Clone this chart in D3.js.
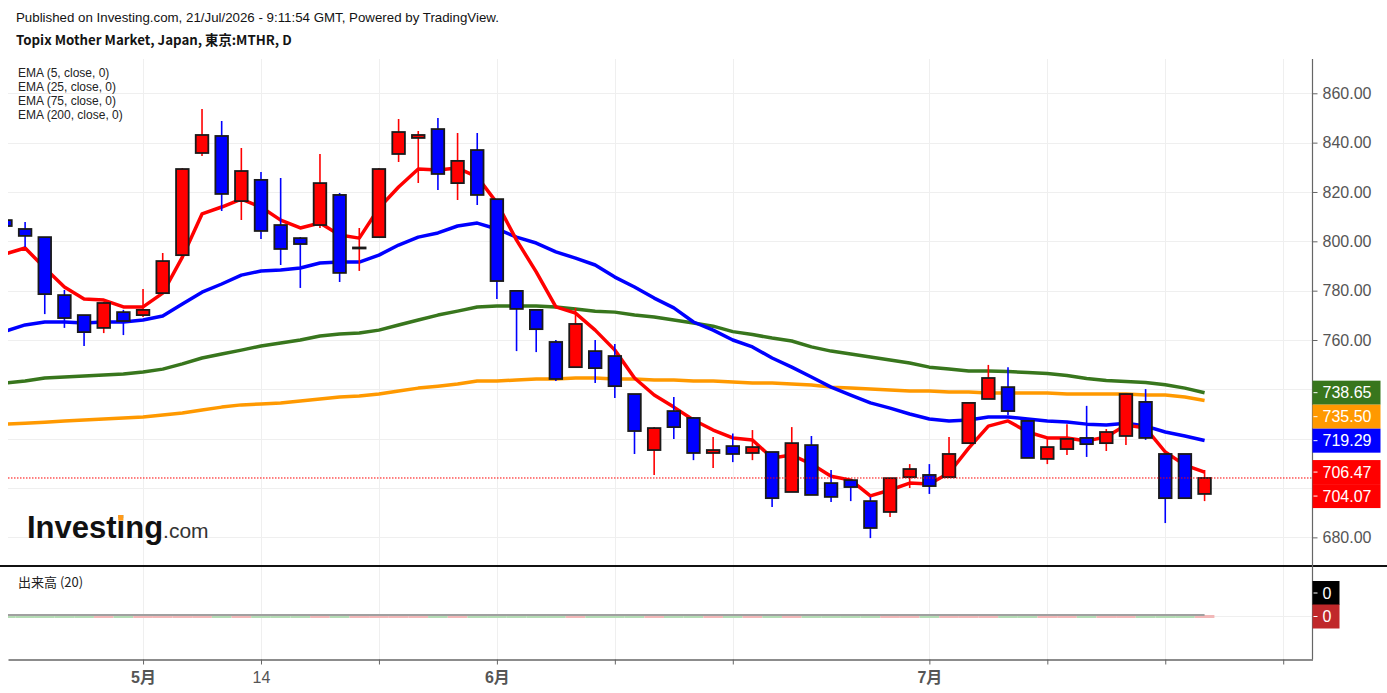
<!DOCTYPE html>
<html>
<head>
<meta charset="utf-8">
<title>Topix Mother Market</title>
<script src="https://cdn.jsdelivr.net/npm/d3@7"></script>
<style>
  body { margin: 0; background: #fff; }
  svg { display: block; }
</style>
</head>
<body>
<svg id="chart" width="1387" height="693"></svg>
<script>
// daily candles, index 0 = first (partly hidden) bar
const opens = [
  808.6, 805.0, 801.7, 778.2, 770.1, 764.9, 771.3, 770.1, 779.0, 794.4,
  835.8, 842.7, 816.3, 824.9, 806.6, 801.3, 806.6, 818.8, 797.2, 801.7,
  835.4, 841.9, 845.5, 823.6, 837.0, 817.1, 779.9, 772.2, 759.2, 749.0,
  755.5, 753.5, 738.1, 715.4, 731.2, 728.4, 714.2, 717.0, 714.2, 714.6,
  698.4, 717.4, 702.0, 703.2, 694.7, 690.3, 704.4, 705.3, 704.4, 718.2,
  736.1, 740.9, 727.2, 711.8, 715.8, 720.3, 718.2, 721.1, 734.9, 713.8,
  713.8, 697.6
];
const highs = [
  809.5, 807.8, 801.7, 780.3, 770.1, 775.4, 772.2, 780.7, 795.3, 829.7,
  853.6, 848.8, 837.8, 828.1, 825.7, 801.7, 835.4, 819.6, 805.4, 829.7,
  849.6, 844.7, 850.0, 843.9, 843.9, 817.1, 779.9, 772.2, 760.0, 773.0,
  760.0, 758.4, 738.1, 724.7, 736.9, 728.8, 720.7, 722.1, 723.5, 714.6,
  724.7, 721.1, 707.3, 703.2, 696.4, 704.0, 709.7, 709.7, 720.7, 734.5,
  749.9, 749.0, 727.2, 720.7, 725.9, 733.3, 723.9, 738.1, 740.1, 713.8,
  713.8, 707.3
];
const lows = [
  805.5, 797.7, 770.5, 764.9, 757.6, 762.8, 762.0, 769.3, 779.0, 794.4,
  834.6, 812.3, 808.6, 800.9, 790.4, 781.1, 805.4, 783.5, 788.0, 801.7,
  832.1, 823.6, 820.8, 816.7, 814.7, 776.6, 755.5, 755.1, 743.4, 749.0,
  742.6, 736.5, 713.8, 705.3, 719.9, 711.3, 708.1, 710.5, 711.3, 692.3,
  698.4, 697.2, 694.3, 694.7, 679.7, 688.3, 700.0, 697.6, 704.4, 718.2,
  736.1, 729.6, 712.2, 709.7, 713.4, 712.6, 715.0, 717.4, 719.5, 685.8,
  695.9, 694.7
];
const closes = [
  806.2, 802.2, 778.6, 768.9, 763.2, 775.0, 767.7, 772.2, 792.0, 829.3,
  843.1, 819.2, 828.5, 804.2, 796.9, 798.9, 823.6, 787.2, 797.5, 829.3,
  844.3, 843.1, 827.3, 832.6, 818.8, 783.9, 772.6, 764.4, 744.2, 766.5,
  748.6, 741.3, 723.1, 724.3, 724.7, 714.2, 715.4, 713.8, 716.6, 695.9,
  718.2, 697.2, 696.4, 700.4, 683.8, 704.0, 707.7, 700.8, 713.8, 734.5,
  744.6, 731.2, 712.2, 716.6, 719.9, 717.8, 722.7, 738.1, 720.3, 695.9,
  695.9, 704.07
];
const volumes = [
  0, 0, 0, 0, 0, 0, 0, 0, 0, 0,
  0, 0, 0, 0, 0, 0, 0, 0, 0, 0,
  0, 0, 0, 0, 0, 0, 0, 0, 0, 0,
  0, 0, 0, 0, 0, 0, 0, 0, 0, 0,
  0, 0, 0, 0, 0, 0, 0, 0, 0, 0,
  0, 0, 0, 0, 0, 0, 0, 0, 0, 0,
  0, 0
];

// moving averages
const ema5 = [
  794.9, 797.3, 789.2, 781.5, 776.6, 776.2, 773.4, 773.4, 779.0, 793.6,
  811.1, 813.9, 817.1, 813.9, 808.6, 805.4, 807.4, 802.6, 801.3, 813.5,
  822.0, 829.3, 828.9, 829.7, 826.1, 815.6, 800.5, 787.6, 773.4, 770.9,
  764.0, 755.9, 744.6, 737.7, 732.8, 727.6, 723.5, 720.3, 719.5, 712.2,
  713.4, 709.7, 704.8, 703.2, 696.8, 699.2, 702.0, 701.6, 706.1, 716.2,
  725.1, 727.2, 722.7, 720.3, 720.3, 719.1, 720.7, 725.5, 724.3, 714.6,
  709.3, 706.47
];
const ema25 = [
  763.6, 766.1, 767.3, 767.3, 766.9, 767.3, 767.3, 768.1, 769.7, 774.6,
  779.4, 782.7, 786.3, 788.0, 788.4, 789.2, 791.2, 791.6, 791.6, 794.4,
  798.5, 801.7, 803.4, 806.2, 807.4, 805.0, 801.7, 799.3, 795.7, 793.2,
  790.4, 785.5, 781.5, 777.0, 773.0, 767.3, 764.0, 760.0, 757.2, 752.7,
  749.0, 745.0, 740.9, 737.7, 734.5, 732.4, 730.0, 728.0, 727.2, 727.6,
  728.8, 728.8, 728.0, 727.2, 726.8, 725.9, 725.5, 726.3, 725.1, 722.7,
  721.1, 719.29
];
const ema75 = [
  742.6, 743.4, 744.6, 745.0, 745.4, 745.8, 746.2, 747.0, 748.2, 750.3,
  752.7, 754.3, 755.9, 757.6, 758.8, 760.0, 761.6, 762.4, 762.8, 764.0,
  766.1, 768.1, 770.1, 771.7, 773.4, 773.8, 773.8, 773.8, 773.4, 772.6,
  771.7, 771.3, 770.1, 769.3, 768.1, 766.9, 765.6, 763.4, 762.2, 760.8,
  759.6, 757.2, 755.5, 754.3, 753.1, 751.9, 750.7, 749.0, 748.2, 747.4,
  747.4, 747.2, 746.8, 746.4, 745.6, 744.4, 743.6, 743.2, 742.8, 741.9,
  740.5, 738.65
];
const ema200 = [
  725.9, 726.3, 726.7, 727.2, 727.6, 728.0, 728.4, 728.8, 729.6, 730.4,
  731.6, 732.8, 733.7, 734.1, 734.5, 735.3, 736.1, 736.9, 737.3, 738.1,
  739.3, 740.5, 741.3, 742.2, 743.4, 743.4, 743.8, 744.2, 744.2, 744.6,
  744.6, 744.2, 744.2, 743.8, 743.8, 743.4, 743.4, 743.0, 742.6, 742.6,
  742.2, 741.8, 740.9, 740.5, 740.1, 739.7, 739.3, 739.3, 738.9, 738.9,
  738.5, 738.5, 738.5, 738.5, 738.1, 738.1, 738.1, 738.1, 737.7, 737.7,
  736.9, 735.50
];

const priceTicks = [680, 700, 720, 740, 760, 780, 800, 820, 840, 860];
const tickIdx = [7, 13, 19, 25, 31, 37, 47, 53, 59, 65];
const tickLabels = ["5月", "14", "", "6月", "", "", "7月", "", "", ""];
const legendNames = ["EMA (5, close, 0)", "EMA (25, close, 0)", "EMA (75, close, 0)", "EMA (200, close, 0)"];

const UP = "#ff0000", DOWN = "#0000ff";
const emaSeries = [
  { values: ema200, color: "#ff9900" },
  { values: ema75, color: "#38761d" },
  { values: ema25, color: "#0000ff" },
  { values: ema5, color: "#ff0000" },
];

const svg = d3.select("#chart");
const plotL = 8, plotR = 1312.5, plotT = 59, plotB = 565;
const volB = 659.5;

const x = d3.scaleLinear().domain([0.13, 66.49]).range([plotL, plotR]);
const y = d3.scaleLinear().domain([668.8, 873.9]).range([plotB, plotT]);
const yVol = d3.scaleLinear().domain([-1, 1]).range([volB + 0.5, 572]);
const step = x(1) - x(0);
const bodyW = step * 0.64;
const last = closes.length - 1;

svg.append("defs").append("clipPath").attr("id", "clip")
  .append("rect").attr("x", plotL).attr("y", plotT)
  .attr("width", plotR - plotL).attr("height", plotB - plotT);

// grid
const grid = svg.append("g").attr("stroke", "#efefef").attr("stroke-width", 1);
grid.selectAll("line.v").data(tickIdx).enter().append("line")
  .attr("x1", d => Math.round(x(d)) + 0.5).attr("x2", d => Math.round(x(d)) + 0.5)
  .attr("y1", plotT).attr("y2", volB);
grid.selectAll("line.h").data(priceTicks).enter().append("line")
  .attr("x1", plotL).attr("x2", plotR)
  .attr("y1", d => Math.round(y(d)) + 0.5).attr("y2", d => Math.round(y(d)) + 0.5);
grid.append("line").attr("x1", plotL).attr("x2", plotR)
  .attr("y1", Math.round(yVol(0)) + 0.5).attr("y2", Math.round(yVol(0)) + 0.5);

// header
svg.append("text").attr("x", 16).attr("y", 22)
  .attr("font-family", "Liberation Sans, Arial, sans-serif").attr("font-size", 13.3)
  .attr("fill", "#131313")
  .text("Published on Investing.com, 21/Jul/2026 - 9:11:54 GMT, Powered by TradingView.");
svg.append("text").attr("x", 16).attr("y", 45)
  .attr("font-family", "Noto Sans CJK JP, sans-serif").attr("font-size", 13.3)
  .attr("font-weight", "bold").attr("fill", "#131313")
  .text("Topix Mother Market, Japan, 東京:MTHR, D");

// logo
const logo = svg.append("text").attr("x", 27).attr("y", 538)
  .attr("font-family", "Liberation Sans, Arial, sans-serif");
const logoWord = logo.append("tspan").attr("font-size", 31).attr("font-weight", "bold")
  .attr("fill", "#111").text("Investing");
logo.append("tspan").attr("font-size", 21).attr("fill", "#333").text(".com");
const dotBox = logoWord.node().getExtentOfChar(6);
svg.append("rect").attr("x", dotBox.x + 1.6).attr("y", 515).attr("width", 5.2).attr("height", 5.6)
  .attr("fill", "#ff9a1a");

const plot = svg.append("g").attr("clip-path", "url(#clip)");

// EMA lines
const line = d3.line().x((d, i) => x(i)).y(d => y(d));
emaSeries.forEach(s => {
  plot.append("path").datum(s.values)
    .attr("fill", "none").attr("stroke", s.color).attr("stroke-width", 3.5)
    .attr("stroke-linejoin", "round").attr("d", line);
});

// candles
const idx = d3.range(closes.length);
const candles = plot.append("g").selectAll("g").data(idx).enter().append("g");
candles.append("line")
  .attr("x1", i => x(i)).attr("x2", i => x(i))
  .attr("y1", i => y(highs[i])).attr("y2", i => y(lows[i]))
  .attr("stroke", i => closes[i] >= opens[i] ? UP : DOWN).attr("stroke-width", 1.6);
candles.append("rect")
  .attr("x", i => x(i) - bodyW / 2).attr("width", bodyW)
  .attr("y", i => y(Math.max(opens[i], closes[i])))
  .attr("height", i => Math.max(1, Math.abs(y(opens[i]) - y(closes[i]))))
  .attr("fill", i => closes[i] >= opens[i] ? UP : DOWN)
  .attr("stroke", "#1a1a1a").attr("stroke-width", 1.8);

// last price line
svg.append("line").attr("x1", plotL).attr("x2", plotR)
  .attr("y1", y(closes[last])).attr("y2", y(closes[last]))
  .attr("stroke", UP).attr("stroke-width", 1).attr("stroke-dasharray", "1.5,1.5");

// legend
svg.append("g").selectAll("text").data(legendNames).enter().append("text")
  .attr("x", 18).attr("y", (d, i) => 77 + i * 14)
  .attr("font-family", "Liberation Sans, Arial, sans-serif").attr("font-size", 12)
  .attr("fill", "#222").text(d => d);

// panel separator
svg.append("line").attr("x1", 0).attr("x2", 1387).attr("y1", 566).attr("y2", 566)
  .attr("stroke", "#111").attr("stroke-width", 2);

// volume panel
svg.append("text").attr("x", 18).attr("y", 587)
  .attr("font-family", "Noto Sans CJK JP, sans-serif").attr("font-size", 13)
  .attr("fill", "#222").text("出来高 (20)");
svg.append("g").selectAll("rect").data(idx).enter().append("rect")
  .attr("x", i => Math.max(plotL, x(i) - step / 2)).attr("width", i => x(i) + step / 2 - Math.max(plotL, x(i) - step / 2))
  .attr("y", i => yVol(volumes[i]) - 1).attr("height", 3)
  .attr("fill", i => closes[i] >= opens[i] ? "#f2b8b8" : "#b5dcb5");
svg.append("path").datum(volumes)
  .attr("fill", "none").attr("stroke", "#a0a0a0").attr("stroke-width", 2)
  .attr("d", d3.line().x((d, i) => Math.max(plotL, x(i))).y(d => yVol(d) - 1));

// value tags on the price axis (placed first so that covered tick labels can be hidden)
const tags = emaSeries.map(s => ({ v: s.values[last], color: s.color }))
  .concat([{ v: closes[last], color: UP }])
  .sort((a, b) => b.v - a.v);
let prev = -Infinity;
tags.forEach(t => { t.cy = Math.max(y(t.v), prev + 24); prev = t.cy; });
const covered = v => tags.some(t => Math.abs(t.cy - y(v)) < 20);

// axes
const yAxis = d3.axisRight(y).tickValues(priceTicks)
  .tickFormat(d => covered(d) ? "" : d3.format(".2f")(d))
  .tickSize(5).tickSizeOuter(0);
const gy = svg.append("g").attr("transform", `translate(${plotR},0)`).call(yAxis);
gy.select(".domain").remove();
gy.selectAll("line").attr("stroke", "#666");
gy.selectAll("text").attr("x", 10).attr("fill", "#555")
  .attr("font-family", "Liberation Sans, Arial, sans-serif").attr("font-size", 16);
svg.append("line").attr("x1", plotR).attr("x2", plotR).attr("y1", plotT).attr("y2", volB)
  .attr("stroke", "#666").attr("stroke-width", 1.2);

const xAxis = d3.axisBottom(x).tickValues(tickIdx)
  .tickFormat((d, i) => tickLabels[i]).tickSize(5).tickSizeOuter(0);
const gx = svg.append("g").attr("transform", `translate(0,${volB})`).call(xAxis);
gx.select(".domain").attr("stroke", "#666").attr("stroke-width", 1.5);
gx.selectAll("line").attr("stroke", "#666");
gx.selectAll("text").attr("y", 12).attr("fill", "#555")
  .attr("font-family", "Liberation Sans, Noto Sans CJK JP, sans-serif").attr("font-size", 16)
  .attr("font-weight", d => tickLabels[tickIdx.indexOf(d)].includes("月") ? "bold" : "normal");

const tagG = svg.append("g").selectAll("g").data(tags).enter().append("g")
  .attr("transform", d => `translate(${plotR},${d.cy})`);
tagG.append("rect").attr("x", 0).attr("y", -12).attr("width", 68).attr("height", 24)
  .attr("fill", d => d.color);
tagG.append("line").attr("x1", 1).attr("x2", 5).attr("stroke", "#fff");
tagG.append("text").attr("x", 10).attr("dy", "0.35em").attr("fill", "#fff")
  .attr("font-family", "Liberation Sans, Arial, sans-serif").attr("font-size", 16)
  .text(d => d3.format(".2f")(d.v));

// volume value tags
const volTags = [
  { v: volumes[last], color: "#000", cy: 593 },
  { v: volumes[last], color: "#c0282a", cy: 616.5 },
];
const vt = svg.append("g").selectAll("g").data(volTags).enter().append("g")
  .attr("transform", d => `translate(${plotR},${d.cy})`);
vt.append("rect").attr("x", 0).attr("y", -12).attr("width", 27).attr("height", 24)
  .attr("fill", d => d.color);
vt.append("line").attr("x1", 1).attr("x2", 5).attr("stroke", "#fff");
vt.append("text").attr("x", 10).attr("dy", "0.35em").attr("fill", "#fff")
  .attr("font-family", "Liberation Sans, Arial, sans-serif").attr("font-size", 16)
  .text(d => d.v);
</script>
</body>
</html>
